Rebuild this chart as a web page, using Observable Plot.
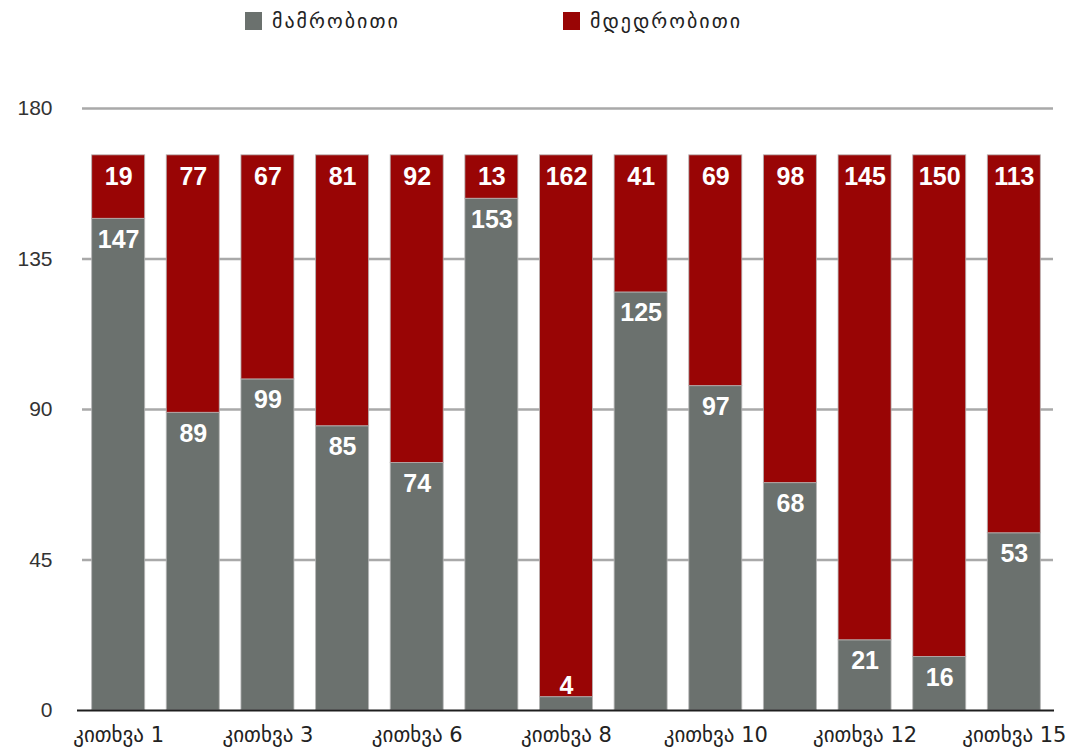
<!DOCTYPE html>
<html>
<head>
<meta charset="utf-8">
<script src="https://cdn.jsdelivr.net/npm/d3@7"></script>
<script src="https://cdn.jsdelivr.net/npm/@observablehq/plot@0.6"></script>
<style>
  html, body { margin: 0; padding: 0; background: #fff; }
  #wrap { position: relative; width: 1084px; height: 754px; overflow: hidden; font-family: "Liberation Sans", "DejaVu Sans", sans-serif; }
  .leg { position: absolute; top: 11px; height: 20px; display: flex; align-items: center; font-family: "DejaVu Sans", sans-serif; font-size: 20px; letter-spacing: 2px; color: #222; }
  .sw { width: 17px; height: 18px; margin-right: 10px; }
  #chart { position: absolute; left: 0; top: 50px; }
</style>
</head>
<body>
<div id="wrap">
  <div id="legend"></div>
  <div id="chart"></div>
</div>
<script>
const categories = ["კითხვა 1","კითხვა 2","კითხვა 3","კითხვა 5","კითხვა 6","კითხვა 7","კითხვა 8","კითხვა 9","კითხვა 10","კითხვა 11","კითხვა 12","კითხვა 14","კითხვა 15"];
const xTickLabels = ["კითხვა 1","კითხვა 3","კითხვა 6","კითხვა 8","კითხვა 10","კითხვა 12","კითხვა 15"];
const seriesNames = ["მამრობითი","მდედრობითი"];
const male =   [147, 89, 99, 85, 74, 153, 4, 125, 97, 68, 21, 16, 53];
const female = [19, 77, 67, 81, 92, 13, 162, 41, 69, 98, 145, 150, 113];
const yTicks = [0, 45, 90, 135, 180];
const colors = ["#6b716e", "#990505"];

// legend
const legend = document.getElementById("legend");
const legLeft = [245, 563];
seriesNames.forEach((n, i) => {
  const d = document.createElement("div");
  d.className = "leg";
  d.style.left = legLeft[i] + "px";
  d.innerHTML = `<div class="sw" style="background:${colors[i]}"></div><span>${n}</span>`;
  legend.appendChild(d);
});

const rows = [];
categories.forEach((c, i) => {
  rows.push({q: c, sex: seriesNames[0], value: male[i]});
  rows.push({q: c, sex: seriesNames[1], value: female[i]});
});
const labelRows = categories.map((c, i) => ({q: c, male: male[i], female: female[i], total: male[i] + female[i]}));

const chart = Plot.plot({
  width: 1084,
  height: 704,
  marginLeft: 70,
  marginRight: 22,
  marginTop: 58,
  marginBottom: 44,
  style: {fontFamily: "'Liberation Sans', 'DejaVu Sans', sans-serif", background: "transparent"},
  x: {domain: categories, padding: 0.29, round: false, label: null},
  y: {domain: [0, 180], label: null},
  color: {domain: seriesNames, range: colors},
  marks: [
    Plot.ruleY(yTicks.filter(d => d > 0), {stroke: "#a9a9a9", strokeWidth: 2.5, insetLeft: 12, insetRight: 9}),
    Plot.barY(rows, {x: "q", y: "value", fill: "sex", stroke: "#b5b5b5", strokeWidth: 1, strokeOpacity: 0.8}),
    Plot.ruleY([0], {stroke: "#1e1e1e", strokeWidth: 2, insetLeft: 7, insetRight: 8}),
    Plot.text(labelRows, {x: "q", y: d => Math.max(d.male, 13.5), text: d => String(d.male), dy: 21, fill: "white", fontSize: 25, fontWeight: "bold"}),
    Plot.text(labelRows, {x: "q", y: "total", text: d => String(d.female), dy: 22, fill: "white", fontSize: 25, fontWeight: "bold"}),
    Plot.axisY({ticks: yTicks, tickSize: 0, tickPadding: 18, fontSize: 21, fill: "#333", label: null}),
    Plot.axisX({ticks: xTickLabels, tickSize: 0, tickPadding: 17, fontSize: 21, fill: "#222", fontFamily: "'DejaVu Sans', sans-serif", label: null, style: {letterSpacing: "1px"}})
  ]
});
document.getElementById("chart").appendChild(chart);
</script>
</body>
</html>
